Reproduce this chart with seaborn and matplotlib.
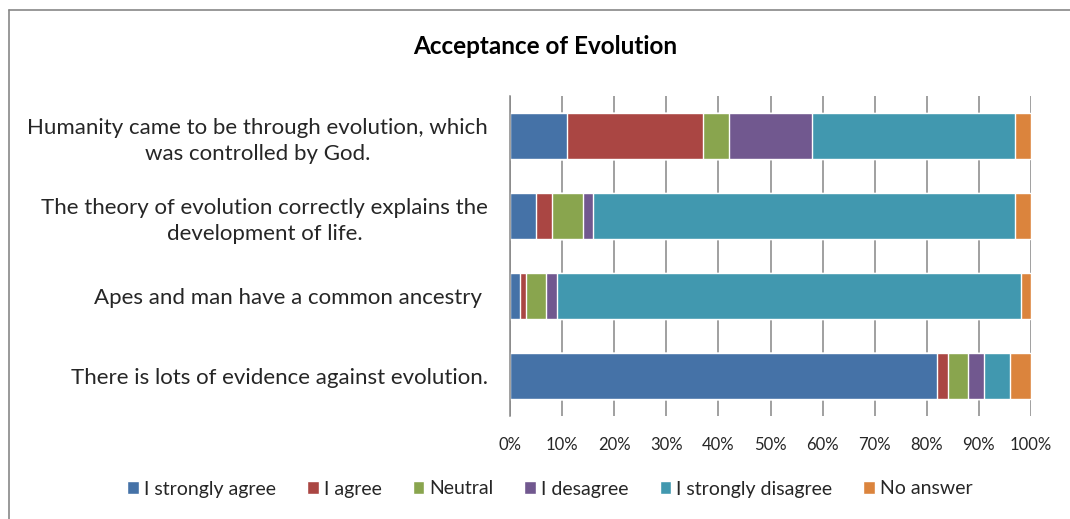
import pandas as pd
import matplotlib
matplotlib.use("Agg")
import matplotlib.pyplot as plt
from matplotlib.lines import Line2D
from matplotlib.patches import Patch
from matplotlib.ticker import FuncFormatter
import seaborn as sns

# statements (top to bottom) and answer shares in percent
statements = [
    "Humanity came to be through evolution, which\nwas controlled by God.",
    "The theory of evolution correctly explains the\ndevelopment of life.",
    "Apes and man have a common ancestry ",
    "There is lots of evidence against evolution.",
]
answers = ["I strongly agree", "I agree", "Neutral", "I desagree",
           "I strongly disagree", "No answer"]
strongly_agree = [11, 5, 2, 82]
agree = [26, 3, 1, 2]
neutral = [5, 6, 4, 4]
disagree = [16, 2, 2, 3]
strongly_disagree = [39, 81, 89, 5]
no_answer = [3, 3, 2, 4]
colours = ["#4572A7", "#AA4643", "#89A54E", "#71588F", "#4198AF", "#DB843D"]

sns.set_style("white")
plt.rcParams["font.family"] = ["Lato", "DejaVu Sans"]

df = pd.DataFrame({"Statement": statements,
                   answers[0]: strongly_agree, answers[1]: agree,
                   answers[2]: neutral, answers[3]: disagree,
                   answers[4]: strongly_disagree, answers[5]: no_answer})
# cumulative sums so the stack can be drawn back to front
cum = df[answers].cumsum(axis=1)
cum["Statement"] = df["Statement"]

fig = plt.figure(figsize=(10.7, 5.19), dpi=100)
ax = fig.add_axes([510 / 1070, 1 - 416 / 519, 521 / 1070, 320 / 519])

for ans, col in reversed(list(zip(answers, colours))):
    sns.barplot(data=cum, x=ans, y="Statement", color=col, orient="h",
                width=0.575, saturation=1, ax=ax, zorder=2)

ax.set_xlim(0, 100)
ax.set_xticks(range(0, 101, 10))
ax.xaxis.set_major_formatter(FuncFormatter(lambda v, p: "%d%%" % v))
ax.set_xlabel("")
ax.set_ylabel("")
ax.grid(axis="x", color="#868686", linewidth=1.1, zorder=0)
ax.set_axisbelow(True)
for s in ["top", "right", "bottom"]:
    ax.spines[s].set_visible(False)
ax.spines["left"].set_color("#868686")
ax.spines["left"].set_linewidth(1.1)
ax.tick_params(axis="x", length=0, pad=15, labelsize=12)
ax.tick_params(axis="y", length=0, pad=16, labelsize=16)
for t in ax.get_yticklabels():
    t.set_multialignment("center")
    t.set_linespacing(1.35)

fig.text(545 / 1070, 1 - 47 / 519, "Acceptance of Evolution",
         ha="center", va="center", fontsize=17.5, fontweight="bold", color="black")

handles = [Patch(facecolor=c, label=a) for a, c in zip(answers, colours)]
fig.legend(handles=handles, loc="center", bbox_to_anchor=(550 / 1070, 1 - 489 / 519),
           ncol=6, frameon=False, fontsize=14, handlelength=0.6, handleheight=0.6,
           handletextpad=0.25, columnspacing=1.6)

# chart area border (only left and top edges fall inside the picture)
fig.add_artist(Line2D([9 / 1070, 9 / 1070], [0, 1 - 10 / 519],
                      transform=fig.transFigure, color="#878787", linewidth=1.2))
fig.add_artist(Line2D([9 / 1070, 1], [1 - 10 / 519, 1 - 10 / 519],
                      transform=fig.transFigure, color="#878787", linewidth=1.2))

fig.savefig("out.png", dpi=100)
